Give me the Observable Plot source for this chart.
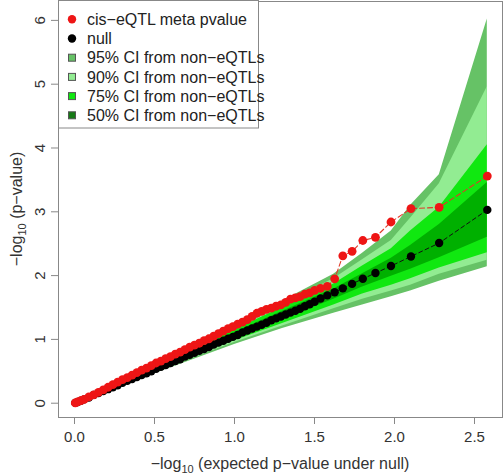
<!DOCTYPE html>
<html><head><meta charset="utf-8">
<script src="https://cdn.jsdelivr.net/npm/d3@7"></script>
<script src="https://cdn.jsdelivr.net/npm/@observablehq/plot@0.6"></script>
<style>body{margin:0;background:#fff}</style>
</head><body><div id="chart"></div>
<script>
// expected -log10 p (x) and observed values
const tailX = [2.580, 2.279, 2.103, 1.978, 1.881, 1.802, 1.735, 1.677, 1.626, 1.580, 1.538, 1.501];
const tailRed = [3.56, 3.07, 3.05, 2.84, 2.60, 2.55, 2.38, 2.31, 1.95, 1.83, 1.80, 1.77];
const tailNull = [3.03, 2.51, 2.30, 2.15, 2.04, 1.95, 1.87, 1.80, 1.74, 1.69, 1.64, 1.59];
const denseX = [1.47,1.44,1.41,1.38,1.35,1.32,1.29,1.26,1.23,1.20,1.17,1.14,1.11,1.08,1.05,1.02,0.99,0.96,0.93,0.90,0.87,0.84,0.81,0.78,0.75,0.72,0.69,0.66,0.63,0.60,0.57,0.54,0.51,0.48,0.45,0.42,0.39,0.36,0.33,0.30,0.27,0.24,0.21,0.18,0.15,0.12,0.09,0.06,0.04,0.02,0.005];
const denseRed = [1.73,1.71,1.67,1.65,1.63,1.58,1.54,1.52,1.49,1.47,1.44,1.41,1.36,1.31,1.27,1.24,1.20,1.17,1.13,1.09,1.05,1.01,0.98,0.94,0.91,0.88,0.84,0.80,0.77,0.73,0.70,0.66,0.63,0.59,0.55,0.52,0.48,0.44,0.40,0.37,0.33,0.29,0.25,0.21,0.17,0.13,0.10,0.06,0.04,0.02,0.005];
const denseNull = [1.55,1.52,1.48,1.45,1.42,1.39,1.36,1.33,1.30,1.26,1.23,1.20,1.17,1.14,1.11,1.07,1.04,1.01,0.98,0.95,0.92,0.88,0.85,0.82,0.79,0.76,0.73,0.69,0.66,0.63,0.60,0.57,0.54,0.50,0.47,0.44,0.41,0.38,0.35,0.32,0.28,0.25,0.22,0.19,0.16,0.13,0.09,0.06,0.04,0.02,0.005];

// confidence bands from non-eQTLs
const bandX   = [0, 0.5, 1.0, 1.3, 1.62, 1.80, 1.98, 2.10, 2.28, 2.58];
const ci95Hi  = [0, 0.58, 1.22, 1.60, 2.02, 2.35, 2.70, 3.10, 3.58, 6.02];
const ci90Hi  = [0, 0.56, 1.18, 1.55, 1.95, 2.25, 2.55, 2.90, 3.44, 4.96];
const ci75Hi  = [0, 0.55, 1.15, 1.50, 1.87, 2.15, 2.42, 2.70, 3.07, 4.05];
const ci50Hi  = [0, 0.54, 1.11, 1.44, 1.79, 2.03, 2.27, 2.47, 2.80, 3.46];
const ci50Lo  = [0, 0.51, 1.02, 1.31, 1.63, 1.82, 1.99, 2.10, 2.28, 2.60];
const ci75Lo  = [0, 0.49, 0.98, 1.25, 1.54, 1.71, 1.85, 1.95, 2.12, 2.36];
const ci90Lo  = [0, 0.48, 0.95, 1.21, 1.48, 1.63, 1.76, 1.85, 2.02, 2.24];
const ci95Lo  = [0, 0.46, 0.92, 1.17, 1.41, 1.54, 1.67, 1.76, 1.91, 2.14];

const xTicks = [0, 0.5, 1, 1.5, 2, 2.5];
const yTicks = [0, 1, 2, 3, 4, 5, 6];
const legendLabels = ["cis\u2212eQTL meta pvalue", "null", "95% CI from non\u2212eQTLs", "90% CI from non\u2212eQTLs", "75% CI from non\u2212eQTLs", "50% CI from non\u2212eQTLs"];
const bandColors = {c95: "#66c266", c90: "#92ec92", c75: "#10e810", c50: "#00b000"};

const redData = tailX.map((x, i) => ({x, y: tailRed[i]})).concat(denseX.map((x, i) => ({x, y: denseRed[i]})));
const nullData = tailX.map((x, i) => ({x, y: tailNull[i]})).concat(denseX.map((x, i) => ({x, y: denseNull[i]})));
const band = (lo, hi) => bandX.map((x, i) => ({x, lo: lo[i], hi: hi[i]}));

const chart = Plot.plot({
  width: 504, height: 476,
  marginLeft: 58, marginRight: 2, marginTop: 1, marginBottom: 59,
  x: {domain: [-0.1, 2.675]},
  y: {domain: [-0.224, 6.296]},
  style: {fontFamily: "Liberation Sans, Arial, sans-serif", fontSize: "15px", background: "white", color: "#333"},
  marks: [
    Plot.areaY(band(ci95Lo, ci95Hi), {x: "x", y1: "lo", y2: "hi", fill: bandColors.c95}),
    Plot.areaY(band(ci90Lo, ci90Hi), {x: "x", y1: "lo", y2: "hi", fill: bandColors.c90}),
    Plot.areaY(band(ci75Lo, ci75Hi), {x: "x", y1: "lo", y2: "hi", fill: bandColors.c75}),
    Plot.areaY(band(ci50Lo, ci50Hi), {x: "x", y1: "lo", y2: "hi", fill: bandColors.c50}),
    Plot.line(nullData, {x: "x", y: "y", stroke: "#111", strokeWidth: 1, strokeDasharray: "4,3"}),
    Plot.dot(nullData, {x: "x", y: "y", r: 4.2, fill: "black", stroke: "none"}),
    Plot.line(redData, {x: "x", y: "y", stroke: "#e03a28", strokeWidth: 1.1, strokeDasharray: "5,3"}),
    Plot.dot(redData, {x: "x", y: "y", r: 4.4, fill: "#ee1515", stroke: "none"}),
    Plot.frame({stroke: "#888"}),
    Plot.axisX({ticks: xTicks, tickFormat: d => d.toFixed(1), tickSize: 7, tickPadding: 7, label: null, stroke: "#888", fill: "#333"}),
    Plot.axisY({ticks: yTicks, tickFormat: d => String(d), tickSize: 7, tickPadding: 7, tickRotate: -90, label: null, stroke: "#888", fill: "#333"})
  ]
});
document.getElementById("chart").appendChild(chart);

const svg = d3.select(chart);
// axis titles
const xl = svg.append("text").attr("x", 280).attr("y", 469).attr("text-anchor", "middle")
  .attr("font-size", 16).attr("fill", "#333");
xl.append("tspan").text("\u2212log");
xl.append("tspan").attr("font-size", 11).attr("dy", 4).text("10");
xl.append("tspan").attr("dy", -4).text(" (expected p\u2212value under null)");
const yl = svg.append("text").attr("transform", "translate(22,209) rotate(-90)").attr("text-anchor", "middle")
  .attr("font-size", 16).attr("fill", "#333");
yl.append("tspan").text("\u2212log");
yl.append("tspan").attr("font-size", 11).attr("dy", 4).text("10");
yl.append("tspan").attr("dy", -4).text(" (p\u2212value)");

// legend
const lg = svg.append("g").attr("text-anchor", "start");
lg.append("rect").attr("x", 58.5).attr("y", 0.5).attr("width", 200).attr("height", 127.5)
  .attr("fill", "white").attr("stroke", "#888");
const rowY = [19.3, 38.5, 57.7, 76.9, 96.1, 115.3];
const swatch = [null, null, bandColors.c95, bandColors.c90, bandColors.c75, "#167a16"];
legendLabels.forEach((lab, i) => {
  const y = rowY[i];
  if (i === 0) lg.append("circle").attr("cx", 72).attr("cy", y).attr("r", 4.2).attr("fill", "#ee1515");
  else if (i === 1) lg.append("circle").attr("cx", 72).attr("cy", y).attr("r", 4.2).attr("fill", "black");
  else lg.append("rect").attr("x", 68.5).attr("y", y - 3.5).attr("width", 7).attr("height", 7)
    .attr("fill", swatch[i]).attr("stroke", "#555").attr("stroke-width", 1);
  lg.append("text").attr("x", 87).attr("y", y).attr("dy", "0.35em").attr("text-anchor", "start")
    .attr("font-size", 16).attr("fill", "#222").text(lab);
});
</script>
</body></html>
